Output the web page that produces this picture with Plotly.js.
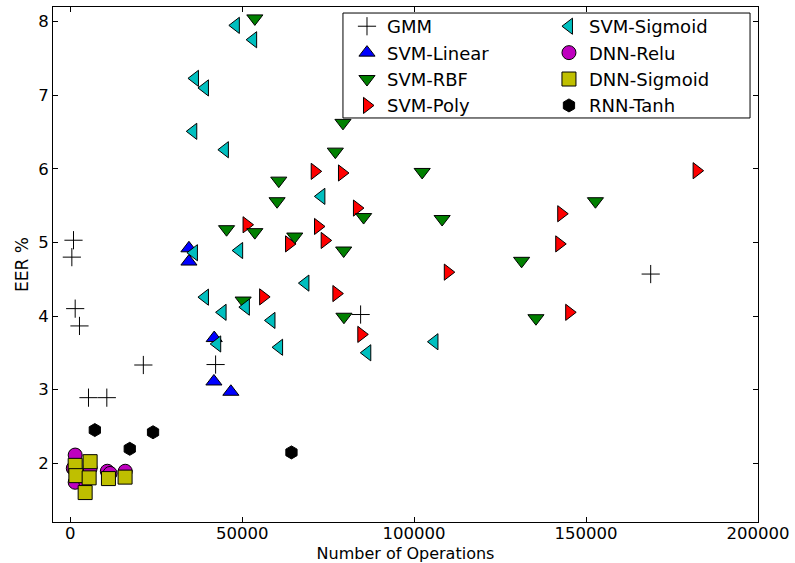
<!DOCTYPE html>
<html>
<head>
<meta charset="utf-8">
<script src="https://cdn.plot.ly/plotly-3.0.1.min.js"></script>
<style>html,body{margin:0;padding:0;background:#fff;}#chart{width:795px;height:563px;}</style>
</head>
<body>
<div id="chart"></div>
<script>
// ---- data ----
const gmmX = [960, 480, 1450, 2700, 21270, 42280, 5320, 10650, 84450, 168800];
const gmmY = [5.03, 4.80, 4.10, 3.865, 3.334, 3.34, 2.89, 2.89, 4.02, 4.57];

const linX = [34530, 34530, 41880, 41790, 46720];
const linY = [4.92, 4.74, 3.70, 3.11, 2.97];

const rbfX = [53690, 79320, 77100, 102350, 60650, 60160, 85320, 108150, 152730, 45470, 53690, 65300, 79520, 131260, 50290, 79600, 135430];
const rbfY = [8.045, 6.625, 6.234, 5.958, 5.84, 5.56, 5.345, 5.318, 5.56, 5.18, 5.14, 5.08, 4.89, 4.75, 4.21, 3.99, 3.97];

const polyX = [71100, 79030, 83380, 72060, 74000, 63640, 51280, 56100, 77400, 84650, 109800, 142780, 142200, 145100, 182150];
const polyY = [5.966, 5.944, 5.467, 5.217, 5.027, 4.98, 5.24, 4.26, 4.305, 3.75, 4.596, 5.39, 4.98, 4.05, 5.975];

const sigX = [48170, 53200, 36280, 39180, 35790, 44980, 73040, 35980, 49130, 39180, 51080, 44310, 58530, 42750, 60740, 68400, 86390, 105920];
const sigY = [7.95, 7.755, 7.23, 7.10, 6.51, 6.26, 5.626, 4.86, 4.89, 4.256, 4.12, 4.05, 3.94, 3.62, 3.575, 4.447, 3.50, 3.65];

const reluX = [1450, 900, 1450, 4500, 5800, 10800, 11600, 16000];
const reluY = [2.11, 1.93, 1.74, 1.75, 1.93, 1.89, 1.86, 1.89];

const dsigX = [1450, 5800, 1650, 5510, 11120, 15960, 4350];
const dsigY = [1.97, 2.02, 1.83, 1.80, 1.79, 1.81, 1.60];

const rnnX = [7160, 17320, 24090, 64340];
const rnnY = [2.45, 2.195, 2.42, 2.146];

const xTicks = [0, 50000, 100000, 150000, 200000];
const yTicks = [2, 3, 4, 5, 6, 7, 8];

// ---- traces ----
function tr(name, x, y, symbol, color, size, legend, rank) {
  return {
    type: 'scatter', mode: 'markers', name: name, x: x, y: y,
    legend: legend, legendrank: rank,
    marker: { symbol: symbol, color: color, size: size, line: { color: '#000', width: 1 } }
  };
}
const traces = [
  tr('GMM', gmmX, gmmY, 'cross-thin', '#000', 13, 'legend', 1),
  tr('SVM-Linear', linX, linY, 'triangle-up', '#0000ff', 14, 'legend', 2),
  tr('SVM-Poly', polyX, polyY, 'triangle-right', '#ff0000', 14, 'legend', 4),
  tr('SVM-RBF', rbfX, rbfY, 'triangle-down', '#008000', 14, 'legend', 3),
  tr('SVM-Sigmoid', sigX, sigY, 'triangle-left', '#00bfbf', 14, 'legend2', 1),
  tr('DNN-Relu', reluX, reluY, 'circle', '#bf00bf', 14, 'legend2', 2),
  tr('DNN-Sigmoid', dsigX, dsigY, 'square', '#bfbf00', 14, 'legend2', 3),
  tr('RNN-Tanh', rnnX, rnnY, 'hexagon', '#000', 13, 'legend2', 4)
];

const axisCommon = {
  showline: true, linecolor: '#000', linewidth: 1, mirror: 'ticks',
  ticks: 'inside', ticklen: 5, tickcolor: '#000', tickwidth: 1,
  showgrid: false, zeroline: false,
  tickfont: { family: 'DejaVu Sans', size: 16.5, color: '#000' }
};

const legendCommon = {
  orientation: 'v', yanchor: 'top', xanchor: 'left', y: 0.998,
  borderwidth: 0, bgcolor: 'rgba(0,0,0,0)',
  font: { family: 'DejaVu Sans', size: 18, color: '#000' },
  traceorder: 'normal'
};

const layout = {
  width: 795, height: 563,
  margin: { l: 53, r: 37, t: 7, b: 41 },
  paper_bgcolor: '#fff', plot_bgcolor: '#fff',
  font: { family: 'DejaVu Sans', color: '#000' },
  xaxis: Object.assign({}, axisCommon, {
    range: [-5000, 200000], tickvals: xTicks, ticktext: xTicks.map(String),
    ticklabelstandoff: -4,
    title: { text: 'Number of Operations', font: { size: 16, family: 'DejaVu Sans' }, standoff: 6 }
  }),
  yaxis: Object.assign({}, axisCommon, {
    range: [1.2, 8.2], tickvals: yTicks, ticktext: yTicks.map(String),
    title: { text: 'EER %', font: { size: 17, family: 'DejaVu Sans' }, standoff: 5 }
  }),
  showlegend: true,
  legend: Object.assign({}, legendCommon, { x: 0.417 }),
  legend2: Object.assign({}, legendCommon, { x: 0.7035 }),
  shapes: [{
    type: 'rect', xref: 'paper', yref: 'paper', layer: 'above',
    x0: 0.4113, x1: 0.9887, y0: 0.7845, y1: 0.9883,
    line: { color: '#000', width: 1 }, fillcolor: '#fff'
  }]
};

Plotly.newPlot('chart', traces, layout, { displayModeBar: false, staticPlot: true });
</script>
</body>
</html>
